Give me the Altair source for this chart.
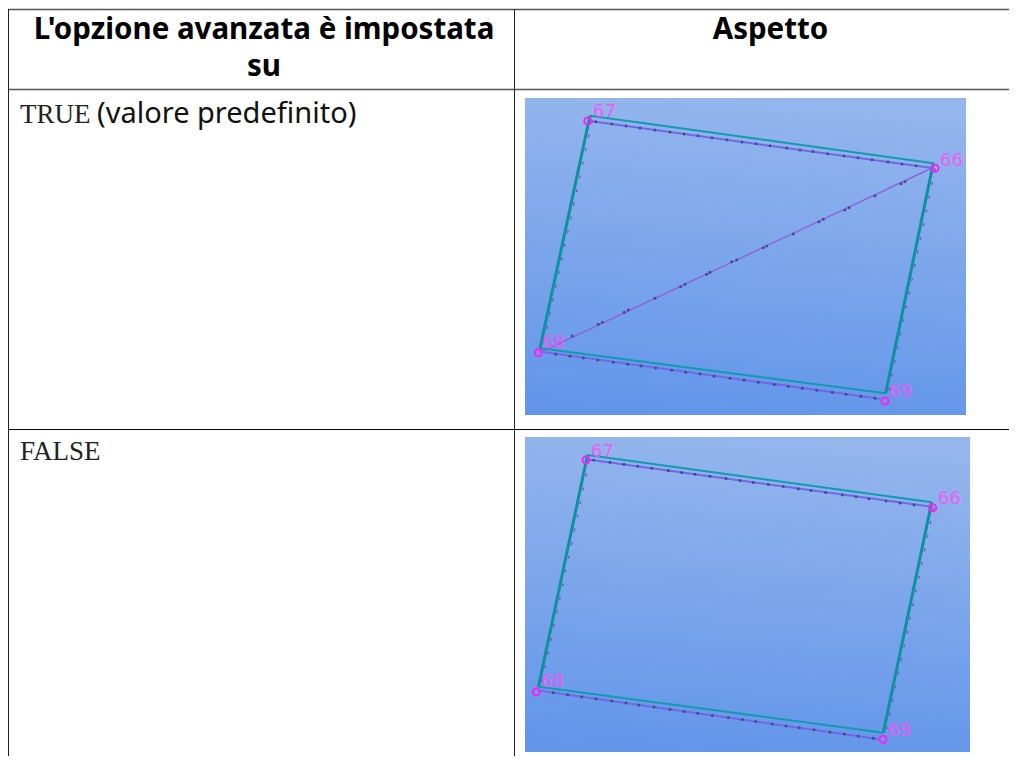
import altair as alt
import pandas as pd

W, H = 1001, 748
X0, Y0 = 8, 8

# Table text
header_left = ["L'opzione avanzata è impostata", "su"]
header_right = "Aspetto"
row_labels = ["TRUE", "FALSE"]
row_note = "(valore predefinito)"

# Node ids
node_ids = ["67", "66", "68", "69"]

# Panel 1 nodes (order 67, 66, 68, 69)
p1_node_x = [587.7, 935, 538.3, 885]
p1_node_y = [121, 168.3, 352.7, 401]
p1_label_x = [593, 940, 542, 889]
p1_label_y = [117, 166, 348, 397]
p1_teal_x = [590, 933.3, 540, 885.7]
p1_teal_y = [115.7, 163.3, 348.3, 393.3]
p1_pur_x = [590, 932, 540, 880]
p1_pur_y = [121, 168, 351.5, 398.8]

# Panel 2 nodes
p2_node_x = [586, 932.7, 536.3, 883]
p2_node_y = [460, 507.7, 691.7, 739.3]
p2_label_x = [591, 938, 541, 888]
p2_label_y = [457, 504, 687, 736]
p2_teal_x = [587.5, 931.7, 538.5, 883.3]
p2_teal_y = [455, 502.3, 686.7, 732.7]
p2_pur_x = [588, 930, 538, 878]
p2_pur_y = [459.5, 506.5, 690.5, 739]

# Small dark seed dots
p1_top_x = [595.7,611.7,626,640,655,670,684,698,712,727,742,756,770,786.7,800,813,827.7,844,858,872,888,902,916]
p1_top_y = [121.8,124,126,127.9,129.9,132,133.9,135.8,137.8,139.8,141.9,143.8,145.7,148,149.9,151.6,153.7,155.9,157.8,159.7,161.9,163.9,165.8]
p1_bot_x = [555.7,570,583.3,597.7,613.3,627.7,641,655.7,671.7,685.7,700,714,730,744,758.3,774.3,788.3,802.3,816.7,832.3,846,860.7,875]
p1_bot_y = [354.3,356.3,358.1,360.1,362.2,364.2,366,368,370.3,372.2,374.1,376.1,378.3,380.2,382.2,384.4,386.3,388.2,390.2,392.3,394.2,396.2,398.2]
p1_diag_x = [905,901,875,849,845,823.3,819,793.3,766.7,763.3,736.7,731.7,710,706.7,685,680.7,655,628.3,624.3,602.3,598.3,572.3]
p1_diag_y = [181.7,183.7,196,207.7,210,219.3,221.7,234,246,247.7,260,261.7,272.3,274.3,284.3,286.7,298.3,310,312.3,322.3,324.3,336]
p2_top_x = [593.7,610,624,637.7,651.7,668.3,681.7,695,710,726,740,753.3,768.3,783.3,798.3,811,825.7,842.3,856,869,886,900,914]
p2_top_y = [460,462.3,464.3,466.2,468.2,470.5,472.4,474.2,476.3,478.6,480.6,482.4,484.5,486.6,488.7,490.5,492.6,494.9,496.8,498.7,501.1,503,505]
p2_bot_x = [553.3,567.7,581.7,596,611.7,626,639,654,670,684.3,697.7,712.3,728.3,742.3,755.7,772.3,786,799.3,814,830,844.3,858.3,873.3]
p2_bot_y = [692.7,694.8,696.8,698.8,701,703.1,704.9,707,709.3,711.4,713.3,715.4,717.6,719.6,721.5,723.9,725.9,727.7,729.8,732.1,734.1,736.1,738.3]

XS = alt.Scale(domain=[X0, X0 + W], range=[0, W])
YS = alt.Scale(domain=[Y0 + H, Y0], range=[H, 0])
x_enc = lambda f: alt.X(f, type="quantitative", scale=XS, axis=None)
y_enc = lambda f: alt.Y(f, type="quantitative", scale=YS, axis=None)


def rules(segs, **mark):
    df = pd.DataFrame(segs, columns=["x", "y", "x2", "y2"])
    return alt.Chart(df).mark_rule(**mark).encode(
        x=x_enc("x"), y=y_enc("y"), x2="x2:Q", y2="y2:Q")


def texts(rows, **mark):
    df = pd.DataFrame(rows, columns=["x", "y", "t"])
    return alt.Chart(df).mark_text(baseline="alphabetic", **mark).encode(
        x=x_enc("x"), y=y_enc("y"), text="t:N")


def panel_bg(x, y, x2, y2):
    df = pd.DataFrame([{"x": x, "y": y, "x2": x2, "y2": y2}])
    grad = alt.LinearGradient(
        gradient="linear", x1=0.55, y1=0, x2=0.45, y2=1,
        stops=[alt.GradientStop(color="#95B6ED", offset=0),
               alt.GradientStop(color="#6396EA", offset=1)])
    return alt.Chart(df).mark_rect(fill=grad).encode(
        x=x_enc("x"), y=y_enc("y"), x2="x2:Q", y2="y2:Q")


def seg(xs, ys, a, b):
    return (xs[a], ys[a], xs[b], ys[b])


def panel(nx, ny, lx, ly, tx, ty, px, py, dots, diagonal):
    layers = []
    layers.append(rules([seg(px, py, 0, 1), seg(px, py, 2, 3)],
                        color="#7068E6", strokeWidth=2))
    if diagonal:
        layers.append(rules([(px[2], py[2] + 1, px[1], py[1])],
                            color="#8A68DC", strokeWidth=1.5))
    layers.append(rules([(tx[0] + 2, ty[0] + 5, tx[2] + 2, ty[2] + 2),
                         (tx[1] + 2, ty[1] + 5, tx[3] + 2, ty[3] + 2)],
                        color="#8A50C8", strokeWidth=1.5, strokeDash=[3, 11]))
    layers.append(rules([seg(tx, ty, 0, 1), seg(tx, ty, 2, 3)],
                        color="#109CAE", strokeWidth=2))
    layers.append(rules([seg(tx, ty, 0, 2), seg(tx, ty, 1, 3)],
                        color="#0A929E", strokeWidth=3))
    ddf = pd.DataFrame({"x": dots[0], "y": dots[1]})
    layers.append(alt.Chart(ddf).mark_point(
        filled=True, color="#3F3F80", size=9, opacity=0.85).encode(
        x=x_enc("x"), y=y_enc("y")))
    ndf = pd.DataFrame({"x": nx, "y": ny})
    layers.append(alt.Chart(ndf).mark_point(
        shape="circle", filled=False, color="#FF20F0", size=50,
        strokeWidth=2, opacity=1).encode(x=x_enc("x"), y=y_enc("y")))
    layers.append(texts(list(zip(lx, ly, node_ids)),
                        align="left", font="DejaVu Sans", fontSize=18,
                        color="#FF50F5", opacity=0.85))
    return layers


layers = []
layers.append(panel_bg(525, 98, 966, 415))
layers.append(panel_bg(525, 437, 970, 752))
layers += panel(p1_node_x, p1_node_y, p1_label_x, p1_label_y, p1_teal_x, p1_teal_y,
                p1_pur_x, p1_pur_y,
                (p1_top_x + p1_bot_x + p1_diag_x, p1_top_y + p1_bot_y + p1_diag_y), True)
layers += panel(p2_node_x, p2_node_y, p2_label_x, p2_label_y, p2_teal_x, p2_teal_y,
                p2_pur_x, p2_pur_y,
                (p2_top_x + p2_bot_x, p2_top_y + p2_bot_y), False)

# Table rules
layers.append(rules([(8, 9.5, 1017, 9.5), (8, 89.5, 1017, 89.5)],
                    color="#555555", strokeWidth=1.5))
layers.append(rules([(8, 429.5, 1017, 429.5)], color="#000000", strokeWidth=1))
layers.append(rules([(8.5, 9, 8.5, 764), (514.5, 9, 514.5, 764)],
                    color="#222222", strokeWidth=1))

# Table text
layers.append(texts([(264, 39, header_left[0]), (264, 76, header_left[1]),
                     (770.5, 39, header_right)],
                    align="center", font="Noto Sans", fontWeight="bold",
                    fontSize=29.5, color="#000000"))
layers.append(texts([(20, 123, row_labels[0]), (20, 459.5, row_labels[1])],
                    align="left", font="Liberation Serif", fontSize=27,
                    color="#222222"))
layers.append(texts([(97, 123, row_note)],
                    align="left", font="Noto Sans", fontSize=29, color="#111111"))

chart = alt.layer(*layers).properties(
    width=W, height=H, padding=0, autosize=alt.AutoSizeParams(type="none"),
    background="white"
).configure_view(stroke=None)

chart.save("out.html", embed_options={"renderer": "svg", "actions": False})
